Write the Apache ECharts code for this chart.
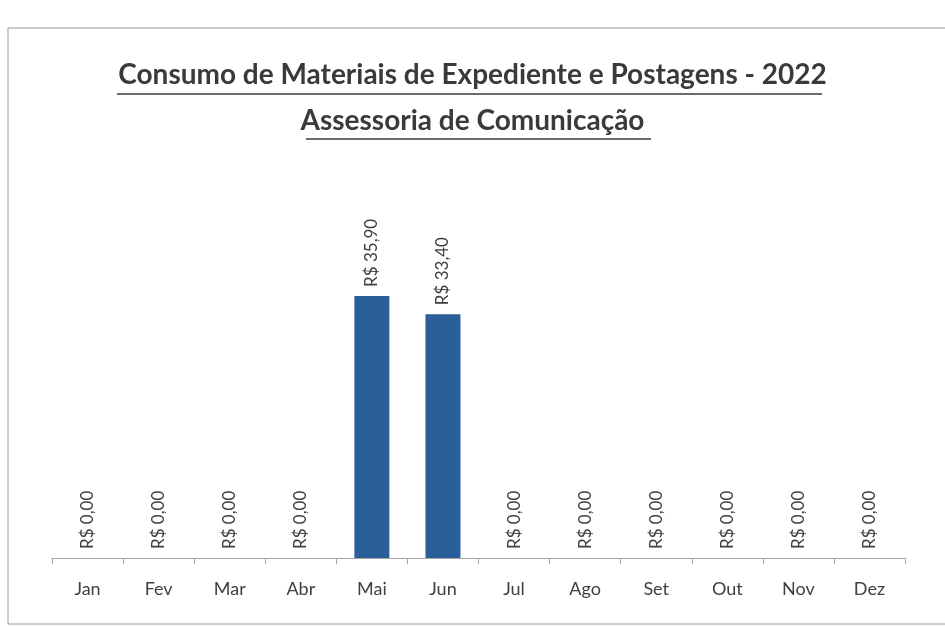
<!DOCTYPE html>
<html><head><meta charset="utf-8">
<script src="https://cdn.jsdelivr.net/npm/echarts@6/dist/echarts.min.js"></script>
<style>html,body{margin:0;padding:0;background:#fff}#c{width:945px;height:629px}</style>
</head><body><div id="c"></div>
<script>
const titleText = 'Consumo de Materiais de Expediente e Postagens - 2022';
const subtitleText = 'Assessoria de Comunicação';
const months = ['Jan','Fev','Mar','Abr','Mai','Jun','Jul','Ago','Set','Out','Nov','Dez'];
const values = [0,0,0,0,35.90,33.40,0,0,0,0,0,0];

function brl(v){ return 'R$ ' + v.toFixed(2).replace('.', ','); }

const chart = echarts.init(document.getElementById('c'));
chart.setOption({
  animation:false,
  backgroundColor:'#fff',
  title:[
    {text:titleText, left:'center', top:56, textStyle:{fontFamily:'Lato', fontWeight:'bold', fontSize:28, color:'#3a3a3a'}},
    {text:subtitleText, left:'center', top:102, textStyle:{fontFamily:'Lato', fontWeight:'bold', fontSize:28, color:'#3a3a3a'}}
  ],
  graphic:[
    {type:'rect', shape:{x:8,y:28,width:960,height:596}, style:{fill:'none', stroke:'#9a9a9a', lineWidth:1}, silent:true},
    {type:'line', shape:{x1:117,y1:94,x2:822,y2:94}, style:{stroke:'#3a3a3a', lineWidth:1.5}, silent:true},
    {type:'line', shape:{x1:306,y1:139,x2:651,y2:139}, style:{stroke:'#3a3a3a', lineWidth:1.5}, silent:true}
  ],
  grid:{left:52, right:40, top:266, bottom:71},
  xAxis:{
    type:'category', data:months,
    axisLine:{lineStyle:{color:'#a6a6a6'}},
    axisTick:{show:true, alignWithLabel:false, length:6, lineStyle:{color:'#a6a6a6'}},
    axisLabel:{margin:22, fontFamily:'Lato', fontSize:18, color:'#404040'}
  },
  yAxis:{type:'value', min:0, max:40, show:false, splitLine:{show:false}},
  series:[{
    type:'bar', data:values, barWidth:35,
    itemStyle:{color:'#2b5f99'},
    label:{show:true, position:'top', rotate:90, align:'left', verticalAlign:'middle', distance:9,
      fontFamily:'Lato', fontSize:17, color:'#404040', formatter:p=>brl(p.value)}
  }]
});
</script></body></html>
